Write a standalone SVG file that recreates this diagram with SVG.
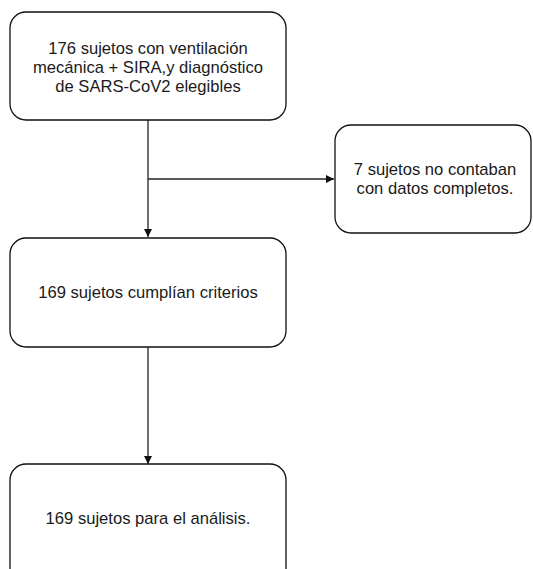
<svg xmlns="http://www.w3.org/2000/svg" width="533" height="569" viewBox="0 0 533 569">
<defs>
<marker id="ah" viewBox="0 0 10 10" refX="10" refY="5" markerWidth="8" markerHeight="8" markerUnits="userSpaceOnUse" orient="auto">
<path d="M0,0 L10,5 L0,10 z" fill="#111"/>
</marker>
<style>
.box{fill:#fff;stroke:#111;stroke-width:1.3}
.t{font-family:"Liberation Sans",Arial,sans-serif;font-size:16.6px;fill:#1a1a1a;text-anchor:middle}
.c{stroke:#222;stroke-width:1.3;fill:none}
</style>
</defs>
<rect width="533" height="569" fill="#fff"/>
<g id="connectors">
<line class="c" x1="148" y1="120" x2="148" y2="237" marker-end="url(#ah)"/>
<line class="c" x1="148" y1="179" x2="334" y2="179" marker-end="url(#ah)"/>
<line class="c" x1="148" y1="347" x2="148" y2="464" marker-end="url(#ah)"/>
</g>
<g id="n1">
<rect class="box" x="10" y="12" width="276" height="108" rx="16"/>
<text class="t" x="148" y="54">176 sujetos con ventilación</text>
<text class="t" x="148" y="73">mecánica + SIRA,y diagnóstico</text>
<text class="t" x="148" y="92">de SARS-CoV2 elegibles</text>
</g>
<g id="n2">
<rect class="box" x="335" y="125" width="196" height="108" rx="16"/>
<text class="t" x="435" y="175">7 sujetos no contaban</text>
<text class="t" x="435" y="194">con datos completos.</text>
</g>
<g id="n3">
<rect class="box" x="10" y="238" width="276" height="109" rx="16"/>
<text class="t" x="148" y="298">169 sujetos cumplían criterios</text>
</g>
<g id="n4">
<rect class="box" x="10" y="464" width="276" height="120" rx="16"/>
<text class="t" x="148" y="524">169 sujetos para el análisis.</text>
</g>
</svg>
